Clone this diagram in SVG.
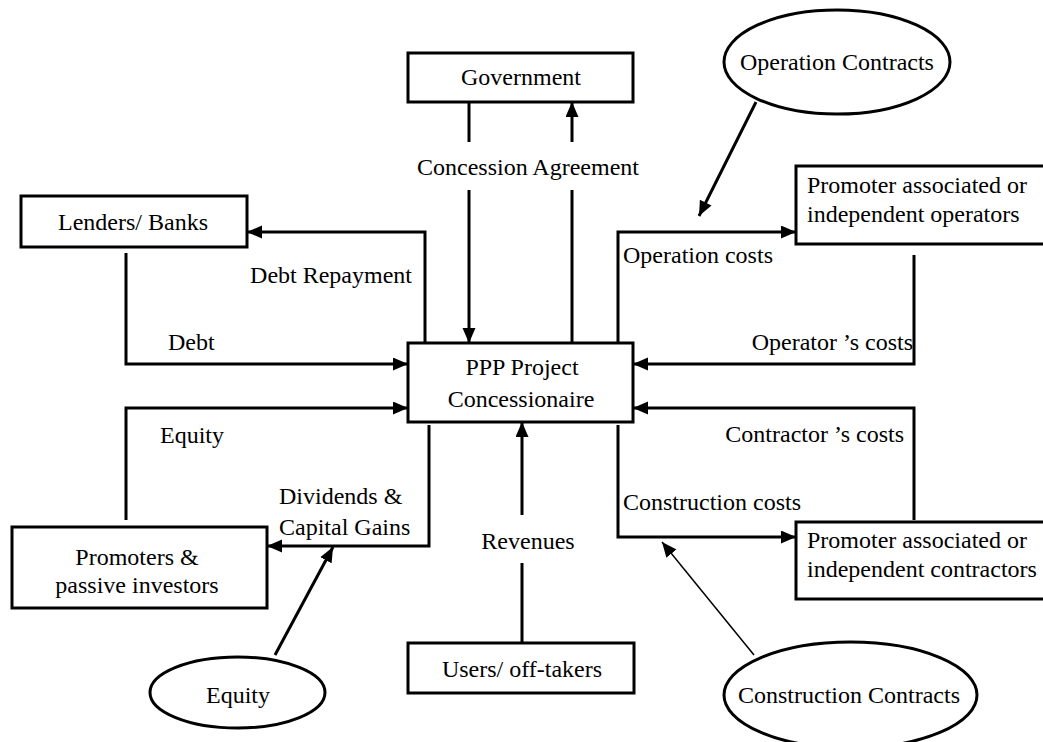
<svg xmlns="http://www.w3.org/2000/svg" width="1043" height="742" viewBox="0 0 1043 742">
<style>
text{font-family:"Liberation Serif","Times New Roman",serif;font-size:24px;fill:#000}
.c{text-anchor:middle}
.e{text-anchor:end}
.box{fill:#fff;stroke:#000;stroke-width:3}
.ell{fill:#fff;stroke:#000;stroke-width:3}
.ln{fill:none;stroke:#000;stroke-width:3}
.thin{fill:none;stroke:#000;stroke-width:1.5}
</style>
<defs>
<marker id="ah" markerUnits="userSpaceOnUse" markerWidth="16" markerHeight="14" refX="15" refY="6.5" orient="auto">
<path d="M0,0 L15,6.5 L0,13 z" fill="#000"/>
</marker>
</defs>
<rect width="1043" height="742" fill="#fff"/>
<g id="connectors">
<path class="ln" d="M469,102 V142"/>
<path class="ln" d="M469,190 V343" marker-end="url(#ah)"/>
<path class="ln" d="M572,343 V190"/>
<path class="ln" d="M572,142 V102" marker-end="url(#ah)"/>
<path class="ln" d="M425,343 V232 H247" marker-end="url(#ah)"/>
<path class="ln" d="M126,253 V364 H408" marker-end="url(#ah)"/>
<path class="ln" d="M126,520 V408 H408" marker-end="url(#ah)"/>
<path class="ln" d="M429,425 V546 H267" marker-end="url(#ah)"/>
<path class="ln" d="M618,343 V232 H796" marker-end="url(#ah)"/>
<path class="ln" d="M914,255 V364 H633" marker-end="url(#ah)"/>
<path class="ln" d="M914,520 V408 H633" marker-end="url(#ah)"/>
<path class="ln" d="M618,425 V537 H796" marker-end="url(#ah)"/>
<path class="ln" d="M522,643 V563"/>
<path class="ln" d="M522,515 V422" marker-end="url(#ah)"/>
<path class="ln" d="M756,102 L699,216" marker-end="url(#ah)"/>
<path class="ln" d="M275,655 L333,547" marker-end="url(#ah)"/>
<path class="thin" d="M754,655 L662,542" marker-end="url(#ah)"/>
<text x="528" y="175" class="c">Concession Agreement</text>
<text x="412" y="283" class="e">Debt Repayment</text>
<text x="168" y="350">Debt</text>
<text x="160" y="443">Equity</text>
<text x="279" y="504">Dividends &amp;</text>
<text x="279" y="535">Capital Gains</text>
<text x="528" y="549" class="c">Revenues</text>
<text x="623" y="263">Operation costs</text>
<text x="913" y="350" class="e">Operator ’s costs</text>
<text x="904" y="442" class="e">Contractor ’s costs</text>
<text x="623" y="510">Construction costs</text>
</g>
<g id="government">
<rect class="box" x="408" y="53" width="225" height="49"/>
<text x="521" y="85" class="c">Government</text>
</g>
<g id="lenders">
<rect class="box" x="21" y="196" width="226" height="51"/>
<text x="133" y="230" class="c">Lenders/ Banks</text>
</g>
<g id="ppp">
<rect class="box" x="408" y="343" width="225" height="79"/>
<text x="522" y="375" class="c">PPP Project</text>
<text x="521" y="407" class="c">Concessionaire</text>
</g>
<g id="promoters">
<rect class="box" x="12" y="527" width="255" height="81"/>
<text x="137" y="565" class="c">Promoters &amp;</text>
<text x="137" y="593" class="c">passive investors</text>
</g>
<g id="users">
<rect class="box" x="408" y="643" width="226" height="50"/>
<text x="522" y="677" class="c">Users/ off-takers</text>
</g>
<g id="operators">
<rect class="box" x="796" y="166" width="260" height="78"/>
<text x="807" y="193">Promoter associated or</text>
<text x="807" y="222">independent operators</text>
</g>
<g id="contractors">
<rect class="box" x="796" y="522" width="260" height="77"/>
<text x="807" y="548">Promoter associated or</text>
<text x="807" y="577">independent contractors</text>
</g>
<g id="operation-contracts">
<ellipse class="ell" cx="837" cy="62" rx="113" ry="52"/>
<text x="837" y="70" class="c">Operation Contracts</text>
</g>
<g id="construction-contracts">
<ellipse class="ell" cx="850.5" cy="695" rx="126.5" ry="53"/>
<text x="849" y="703" class="c">Construction Contracts</text>
</g>
<g id="equity">
<ellipse class="ell" cx="237.5" cy="692.5" rx="87.5" ry="35.5"/>
<text x="238" y="703" class="c">Equity</text>
</g>
</svg>
